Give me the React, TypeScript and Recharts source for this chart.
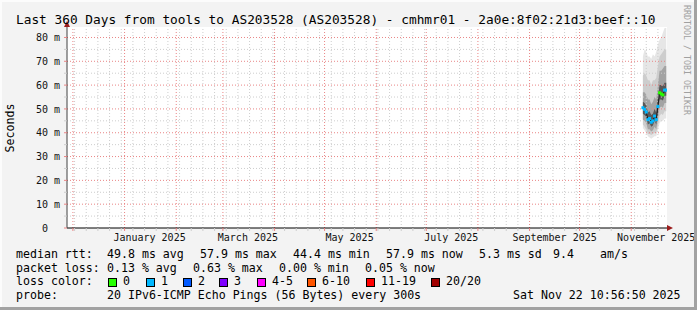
import React from "react";
import {
  ComposedChart,
  Area,
  Line,
  XAxis,
  YAxis,
  CartesianGrid,
  ReferenceLine,
  ReferenceDot,
} from "recharts";

const DAY_MS = 86400000;
const END_TIME = Date.UTC(2025, 10, 22, 10, 56, 50);
const START_TIME = END_TIME - 360 * DAY_MS;
const Y_TOP = 84.4;

const MONO = "'DejaVu Sans Mono', monospace";
const RED_GRID = "#e98585";
const GRAY_GRID = "#cdcdcd";
const ARROW = "#9b1c1c";

// daily consolidated samples, the target only has data for the last two weeks
const sampleDays = [
  "2025-11-08", "2025-11-09", "2025-11-10", "2025-11-11", "2025-11-12",
  "2025-11-13", "2025-11-14", "2025-11-15", "2025-11-16", "2025-11-17",
  "2025-11-18", "2025-11-19", "2025-11-20", "2025-11-21", "2025-11-22",
];
const medianMs = [50.5, 49.8, 48.7, 45.5, 46.0, 44.4, 45.0, 47.0, 45.5, 51.0, 56.8, 56.3, 55.9, 57.9, 57.9];
const lostPings = [0.1, 0.1, 0.2, 0.1, 0.1, 0.2, 0.1, 0.1, 0.1, 0.1, 0, 0, 0, 0.1, 0.1];

// smoke: spread of the 20 pings per sample (outer -> inner)
const pingMin = [42, 41, 40, 38.5, 38, 37.5, 38, 38.5, 38.5, 41, 44, 45, 45, 46, 46];
const pingMax = [72, 75, 74, 72, 72, 71, 73, 72, 74, 77, 79, 80, 82, 84, 84];
const ping10 = [43.5, 42.5, 41.5, 39.5, 39.5, 39, 39.5, 40, 40, 43, 47, 48, 47.5, 49, 49];
const ping90 = [64, 65, 64, 62, 62, 60, 62, 62, 63, 68, 72, 73, 74, 75, 75];
const ping25 = [45.5, 45, 44, 41.5, 41.5, 40.5, 41, 42.5, 41.5, 45.5, 50.5, 51, 50.5, 52.5, 52.5];
const ping75 = [57, 57, 56, 54, 54, 52, 53, 55, 54, 60, 66, 66, 67, 68, 68];
const ping40 = [48, 47.5, 46.5, 43.5, 44, 42.5, 43, 45, 43.5, 48.5, 54, 54, 53.5, 55.5, 55.5];
const ping60 = [53, 52.5, 51.5, 48.5, 49, 47.5, 48, 50, 48.5, 55, 60, 60, 59.5, 61, 61];

const monthStarts = [
  "2024-12-01", "2025-01-01", "2025-02-01", "2025-03-01", "2025-04-01", "2025-05-01",
  "2025-06-01", "2025-07-01", "2025-08-01", "2025-09-01", "2025-10-01", "2025-11-01",
];
const monthLabelStarts = ["2025-01-01", "2025-03-01", "2025-05-01", "2025-07-01", "2025-09-01", "2025-11-01"];
const monthLabelTexts = ["January 2025", "March 2025", "May 2025", "July 2025", "September 2025", "November 2025"];
const firstMonday = "2024-12-02";

const yMajorTicks = [0, 10, 20, 30, 40, 50, 60, 70, 80];
const yMinorTicks = [5, 15, 25, 35, 45, 55, 65, 75];

const lossLabels = ["0", "1", "2", "3", "4-5", "6-10", "11-19", "20/20"];
const lossColors = ["#26ff00", "#00b8ff", "#0059ff", "#7e00ff", "#ff00ff", "#ff5500", "#ff0000", "#a10000"];
const lossUpper = [0, 1, 2, 3, 5, 10, 19, 20];

const rttStats = ["49.8 ms avg", "57.9 ms max", "44.4 ms min", "57.9 ms now", "5.3 ms sd", "9.4", "am/s"];
const lossStats = ["0.13 % avg", "0.63 % max", "0.00 % min", "0.05 % now"];
const probeText = "20 IPv6-ICMP Echo Pings (56 Bytes) every 300s";
const stampText = "Sat Nov 22 10:56:50 2025";
const titleText = "Last 360 Days from tools to AS203528 (AS203528) - cmhmr01 - 2a0e:8f02:21d3:beef::10";

const toTime = (d: string) => Date.parse(d + "T00:00:00Z");

const chartRows = sampleDays.map((d, i) => ({
  t: toTime(d),
  median: medianMs[i],
  loss: lostPings[i],
  outer: [pingMin[i], pingMax[i]],
  wide: [ping10[i], ping90[i]],
  mid: [ping25[i], ping75[i]],
  core: [ping40[i], ping60[i]],
}));

const monthTimes = monthStarts.map(toTime);
const labelTimes = monthLabelStarts.map((d) => toTime(d) + 15 * DAY_MS);
const weekTimes: number[] = [];
for (let t = toTime(firstMonday); t < END_TIME; t += 7 * DAY_MS) weekTimes.push(t);
const minorWeeks = weekTimes.filter((t) => !monthTimes.includes(t));
const xTicks = Array.from(new Set([...minorWeeks, ...monthTimes, ...labelTimes])).sort((a, b) => a - b);

function lossBucket(n: number) {
  const idx = lossUpper.findIndex((u) => n <= u);
  return idx < 0 ? lossUpper.length - 1 : idx;
}

function XTick(props: any) {
  const { x, y, payload } = props;
  const v = payload.value;
  const li = labelTimes.indexOf(v);
  if (li >= 0) {
    return (
      <text x={x} y={y + 13} textAnchor="middle" fontFamily={MONO} fontSize={10} fill="#111">
        {monthLabelTexts[li]}
      </text>
    );
  }
  const major = monthTimes.includes(v);
  return <line x1={x} x2={x} y1={y} y2={y + 3} stroke={major ? RED_GRID : GRAY_GRID} />;
}

function YTick(props: any) {
  const { x, y, payload } = props;
  const v = payload.value;
  const major = v % 10 === 0;
  return (
    <g>
      <line x1={x - 3} x2={x} y1={y} y2={y} stroke={major ? RED_GRID : GRAY_GRID} />
      {major && (
        <text x={v === 0 ? x - 19 : x - 7} y={y + 3.6} textAnchor="end" fontFamily={MONO} fontSize={10} fill="#111">
          {v === 0 ? "0" : `${v} m`}
        </text>
      )}
    </g>
  );
}

function MedianDot(props: any) {
  const { cx, cy, payload, index } = props;
  if (cx == null || cy == null) return <g key={index} />;
  return (
    <rect
      key={index}
      x={cx - 1.5}
      y={cy - 1.5}
      width={3}
      height={3}
      fill={lossColors[lossBucket(payload.loss)]}
    />
  );
}

const legendCols = [107, 200, 293, 386, 479, 553, 600];
const lossCols = [107, 193, 279, 365];
const swatchCols = [108, 146, 183, 219, 257, 307, 366, 431];
const rowBase = [258, 271.7, 285.4, 299];

function Overlay() {
  return (
    <svg
      width={697}
      height={310}
      style={{ position: "absolute", left: 0, top: 0, pointerEvents: "none" }}
      fontFamily={MONO}
    >
      <rect x={0} y={0} width={697} height={2} fill="#fcfcfc" />
      <rect x={0} y={0} width={2} height={310} fill="#fcfcfc" />
      <rect x={694} y={0} width={3} height={310} fill="#a2a2a2" />
      <rect x={0} y={307} width={697} height={3} fill="#a2a2a2" />

      <text x={16} y={24} fontSize={12.8} fill="#000">{titleText}</text>

      <text x={14} y={128} fontSize={11.6} textAnchor="middle" transform="rotate(-90 14 128)" fill="#000">
        Seconds
      </text>
      <text x={684} y={60} fontSize={8.3} textAnchor="middle" transform="rotate(90 684 60)" fill="#a0a0a0">
        RRDTOOL / TOBI OETIKER
      </text>

      <g fontSize={11.6} fill="#000">
        <text x={16} y={rowBase[0]}>median rtt:</text>
        {rttStats.map((s, i) => (
          <text key={s + i} x={legendCols[i]} y={rowBase[0]}>{s}</text>
        ))}
        <text x={16} y={rowBase[1]}>packet loss:</text>
        {lossStats.map((s, i) => (
          <text key={s + i} x={lossCols[i]} y={rowBase[1]}>{s}</text>
        ))}
        <text x={16} y={rowBase[2]}>loss color:</text>
        {lossLabels.map((s, i) => (
          <g key={s}>
            <rect x={swatchCols[i] + 0.5} y={278.5} width={8} height={8} fill={lossColors[i]} stroke="#000" />
            <text x={swatchCols[i] + 15} y={rowBase[2]}>{s}</text>
          </g>
        ))}
        <text x={16} y={rowBase[3]}>probe:</text>
        <text x={107} y={rowBase[3]}>{probeText}</text>
        <text x={513} y={rowBase[3]}>{stampText}</text>
      </g>
    </svg>
  );
}

export default function App() {
  return (
    <div style={{ position: "absolute", left: 0, top: 0, width: 697, height: 310, background: "#f3f3f3" }}>
      <ComposedChart width={697} height={310} data={chartRows} margin={{ top: 27, right: 30, bottom: 0, left: 0 }}>
        <CartesianGrid fill="#ffffff" horizontal={false} vertical={false} />
        {minorWeeks.map((t) => (
          <ReferenceLine key={"w" + t} x={t} stroke={GRAY_GRID} strokeDasharray="1 2" />
        ))}
        {yMinorTicks.map((v) => (
          <ReferenceLine key={"ym" + v} y={v} stroke={GRAY_GRID} strokeDasharray="1 2" />
        ))}
        {monthTimes.map((t) => (
          <ReferenceLine key={"m" + t} x={t} stroke={RED_GRID} strokeDasharray="1 2" />
        ))}
        {yMajorTicks.filter((v) => v > 0).map((v) => (
          <ReferenceLine key={"yM" + v} y={v} stroke={RED_GRID} strokeDasharray="1 2" />
        ))}
        <XAxis
          dataKey="t"
          type="number"
          domain={[START_TIME, END_TIME]}
          allowDataOverflow
          ticks={xTicks}
          interval={0}
          tick={<XTick />}
          tickLine={false}
          tickSize={0}
          tickMargin={0}
          axisLine={{ stroke: "#000" }}
          height={82}
        />
        <YAxis
          type="number"
          domain={[0, Y_TOP]}
          allowDataOverflow
          ticks={[...yMajorTicks, ...yMinorTicks].sort((a, b) => a - b)}
          interval={0}
          tick={<YTick />}
          tickLine={false}
          tickSize={0}
          tickMargin={0}
          axisLine={{ stroke: "#404040" }}
          width={67}
        />
        <Area dataKey="outer" type="linear" stroke="none" fill="#e6e6e6" fillOpacity={1} isAnimationActive={false} activeDot={false} />
        <Area dataKey="wide" type="linear" stroke="none" fill="#cdcdcd" fillOpacity={1} isAnimationActive={false} activeDot={false} />
        <Area dataKey="mid" type="linear" stroke="none" fill="#a3a3a3" fillOpacity={1} isAnimationActive={false} activeDot={false} />
        <Area dataKey="core" type="linear" stroke="none" fill="#585858" fillOpacity={1} isAnimationActive={false} activeDot={false} />
        <Line
          dataKey="median"
          type="linear"
          stroke="#1a1a1a"
          strokeWidth={1}
          dot={<MedianDot />}
          activeDot={false}
          isAnimationActive={false}
        />
        <ReferenceDot
          x={END_TIME}
          y={0}
          r={0}
          shape={(p: any) => (
            <polygon points={`${p.cx},${p.cy - 3} ${p.cx + 6},${p.cy} ${p.cx},${p.cy + 3}`} fill={ARROW} />
          )}
        />
        <ReferenceDot
          x={START_TIME}
          y={Y_TOP}
          r={0}
          shape={(p: any) => (
            <polygon points={`${p.cx - 3},${p.cy} ${p.cx},${p.cy - 6} ${p.cx + 3},${p.cy}`} fill={ARROW} />
          )}
        />
      </ComposedChart>
      <Overlay />
    </div>
  );
}
